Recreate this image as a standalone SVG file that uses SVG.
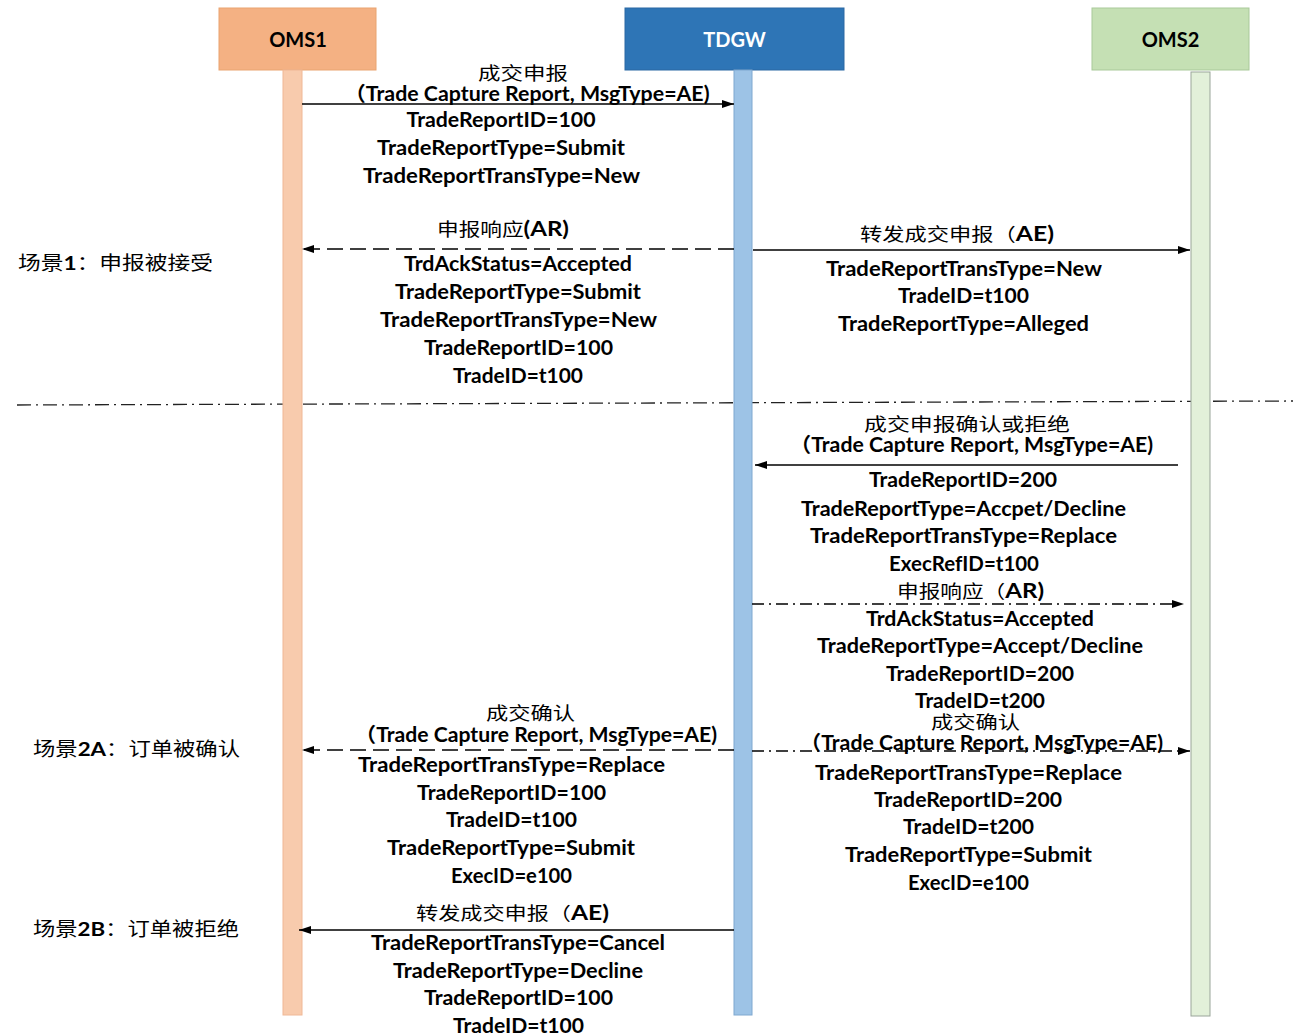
<svg xmlns="http://www.w3.org/2000/svg" width="1293" height="1036" viewBox="0 0 1293 1036">
<style>
.t{font-family:Lato,"Noto Sans CJK SC",sans-serif;font-weight:700;font-size:20px;text-anchor:middle;fill:#000}
.cn{font-family:"Noto Sans CJK SC",sans-serif;font-weight:400;font-size:18px}
.hd{font-family:Lato,"Liberation Sans",sans-serif;font-weight:700;font-size:20px;text-anchor:middle}
.side{font-family:"Noto Sans CJK SC",sans-serif;font-weight:400;font-size:19px;fill:#000}
.ln{stroke:#000;stroke-width:1.5;fill:none}
.dash{stroke-dasharray:16 7}
.dd{stroke-dasharray:12 5 2 5}
</style>
<defs>
<marker id="ah" viewBox="0 0 12 10" refX="12" refY="5" markerWidth="12" markerHeight="10" markerUnits="userSpaceOnUse" orient="auto">
<path d="M0,1 L12,5 L0,9 Z" fill="#000"/>
</marker>
</defs>
<rect width="1293" height="1036" fill="#fff"/>

<line x1="17" y1="405" x2="1293" y2="401" stroke="#222" stroke-width="1.3" stroke-dasharray="14 5 2 5"/>

<g id="oms1">
<rect x="219" y="8" width="157" height="62" fill="#F4B183" stroke="#E9A470" stroke-width="1"/>
<text class="hd" x="298" y="47" fill="#000">OMS1</text>
<rect x="283" y="70" width="19" height="945" fill="#F8CBAD" stroke="#F0B896" stroke-width="1"/>
</g>
<g id="tdgw">
<rect x="625" y="8" width="219" height="62" fill="#2E75B6" stroke="#2B69A3" stroke-width="1"/>
<text class="hd" x="734.5" y="47" fill="#fff">TDGW</text>
<rect x="734" y="70" width="18" height="945" fill="#9DC3E6" stroke="#7FA8D0" stroke-width="1"/>
</g>
<g id="oms2">
<rect x="1092" y="8" width="157" height="62" fill="#C5E0B4" stroke="#A9C99A" stroke-width="1"/>
<text class="hd" x="1170.5" y="47" fill="#000">OMS2</text>
<rect x="1191" y="72" width="19" height="944" fill="#E2F0D9" stroke="#9AA59A" stroke-width="1"/>
</g>

<g id="scenes">
<text class="side" x="18" y="270" textLength="195" lengthAdjust="spacingAndGlyphs">场景<tspan font-family="Lato,sans-serif" font-weight="700">1</tspan>：申报被接受</text>
<text class="side" x="33" y="756" textLength="207" lengthAdjust="spacingAndGlyphs">场景<tspan font-family="Lato,sans-serif" font-weight="700">2A</tspan>：订单被确认</text>
<text class="side" x="33" y="936" textLength="206" lengthAdjust="spacingAndGlyphs">场景<tspan font-family="Lato,sans-serif" font-weight="700">2B</tspan>：订单被拒绝</text>
</g>

<g id="connectors">
<line class="ln" x1="302" y1="104" x2="734" y2="104" marker-end="url(#ah)"/>
<line class="ln dash" x1="734" y1="249" x2="302" y2="249" marker-end="url(#ah)"/>
<line class="ln" x1="753" y1="250" x2="1190" y2="250" marker-end="url(#ah)"/>
<line class="ln" x1="1178" y1="465" x2="755" y2="465" marker-end="url(#ah)"/>
<line class="ln dd" x1="752" y1="604" x2="1184" y2="604" marker-end="url(#ah)"/>
<line class="ln dash" x1="734" y1="750" x2="302" y2="750" marker-end="url(#ah)"/>
<line class="ln dd" x1="752" y1="751" x2="1190" y2="751" marker-end="url(#ah)"/>
<line class="ln" x1="734" y1="930" x2="299" y2="930" marker-end="url(#ah)"/>
</g>

<g id="msg1">
<text class="t cn" x="523" y="80" textLength="90" lengthAdjust="spacingAndGlyphs">成交申报</text>
<text class="t" x="527" y="101" textLength="365" lengthAdjust="spacingAndGlyphs">（Trade Capture Report, MsgType=AE)</text>
<text class="t" x="501" y="127" textLength="189" lengthAdjust="spacingAndGlyphs">TradeReportID=100</text>
<text class="t" x="501" y="155" textLength="248" lengthAdjust="spacingAndGlyphs">TradeReportType=Submit</text>
<text class="t" x="501.5" y="183" textLength="277" lengthAdjust="spacingAndGlyphs">TradeReportTransType=New</text>
</g>

<g id="msg2">
<text class="t" x="503" y="236" textLength="132" lengthAdjust="spacingAndGlyphs"><tspan class="cn">申报响应</tspan>(AR)</text>
<text class="t" x="518" y="271" textLength="228" lengthAdjust="spacingAndGlyphs">TrdAckStatus=Accepted</text>
<text class="t" x="518" y="299" textLength="246" lengthAdjust="spacingAndGlyphs">TradeReportType=Submit</text>
<text class="t" x="518.5" y="327" textLength="277" lengthAdjust="spacingAndGlyphs">TradeReportTransType=New</text>
<text class="t" x="518.5" y="355" textLength="189" lengthAdjust="spacingAndGlyphs">TradeReportID=100</text>
<text class="t" x="518" y="383" textLength="130" lengthAdjust="spacingAndGlyphs">TradeID=t100</text>
</g>

<g id="msg3">
<text class="t" x="957" y="241" textLength="194" lengthAdjust="spacingAndGlyphs"><tspan class="cn">转发成交申报（</tspan>AE)</text>
<text class="t" x="964" y="276" textLength="276" lengthAdjust="spacingAndGlyphs">TradeReportTransType=New</text>
<text class="t" x="963.5" y="303" textLength="131" lengthAdjust="spacingAndGlyphs">TradeID=t100</text>
<text class="t" x="963.5" y="331" textLength="251" lengthAdjust="spacingAndGlyphs">TradeReportType=Alleged</text>
</g>

<g id="msg4">
<text class="t cn" x="967" y="431" textLength="206" lengthAdjust="spacingAndGlyphs">成交申报确认或拒绝</text>
<text class="t" x="971.5" y="452" textLength="363" lengthAdjust="spacingAndGlyphs">（Trade Capture Report, MsgType=AE)</text>
<text class="t" x="963" y="487" textLength="188" lengthAdjust="spacingAndGlyphs">TradeReportID=200</text>
<text class="t" x="963.5" y="516" textLength="325" lengthAdjust="spacingAndGlyphs">TradeReportType=Accpet/Decline</text>
<text class="t" x="963.5" y="543" textLength="307" lengthAdjust="spacingAndGlyphs">TradeReportTransType=Replace</text>
<text class="t" x="964" y="571" textLength="150" lengthAdjust="spacingAndGlyphs">ExecRefID=t100</text>
</g>

<g id="msg5">
<text class="t" x="970.5" y="598" textLength="147" lengthAdjust="spacingAndGlyphs"><tspan class="cn">申报响应（</tspan>AR)</text>
<text class="t" x="980" y="626" textLength="228" lengthAdjust="spacingAndGlyphs">TrdAckStatus=Accepted</text>
<text class="t" x="980" y="653" textLength="326" lengthAdjust="spacingAndGlyphs">TradeReportType=Accept/Decline</text>
<text class="t" x="980" y="681" textLength="188" lengthAdjust="spacingAndGlyphs">TradeReportID=200</text>
<text class="t" x="980" y="708" textLength="130" lengthAdjust="spacingAndGlyphs">TradeID=t200</text>
</g>

<g id="msg6">
<text class="t cn" x="530.5" y="720" textLength="89" lengthAdjust="spacingAndGlyphs">成交确认</text>
<text class="t" x="536" y="742" textLength="362" lengthAdjust="spacingAndGlyphs">（Trade Capture Report, MsgType=AE)</text>
<text class="t" x="511.5" y="772" textLength="307" lengthAdjust="spacingAndGlyphs">TradeReportTransType=Replace</text>
<text class="t" x="511.5" y="800" textLength="189" lengthAdjust="spacingAndGlyphs">TradeReportID=100</text>
<text class="t" x="511.5" y="827" textLength="131" lengthAdjust="spacingAndGlyphs">TradeID=t100</text>
<text class="t" x="511" y="855" textLength="248" lengthAdjust="spacingAndGlyphs">TradeReportType=Submit</text>
<text class="t" x="511.5" y="883" textLength="121" lengthAdjust="spacingAndGlyphs">ExecID=e100</text>
</g>

<g id="msg7">
<text class="t cn" x="975.5" y="729" textLength="89" lengthAdjust="spacingAndGlyphs">成交确认</text>
<text class="t" x="981.5" y="750" textLength="363" lengthAdjust="spacingAndGlyphs">（Trade Capture Report, MsgType=AE)</text>
<text class="t" x="968.5" y="780" textLength="307" lengthAdjust="spacingAndGlyphs">TradeReportTransType=Replace</text>
<text class="t" x="968" y="807" textLength="188" lengthAdjust="spacingAndGlyphs">TradeReportID=200</text>
<text class="t" x="968.5" y="834" textLength="131" lengthAdjust="spacingAndGlyphs">TradeID=t200</text>
<text class="t" x="968.5" y="862" textLength="247" lengthAdjust="spacingAndGlyphs">TradeReportType=Submit</text>
<text class="t" x="968.5" y="890" textLength="121" lengthAdjust="spacingAndGlyphs">ExecID=e100</text>
</g>

<g id="msg8">
<text class="t" x="512.5" y="920" textLength="193" lengthAdjust="spacingAndGlyphs"><tspan class="cn">转发成交申报（</tspan>AE)</text>
<text class="t" x="518" y="950" textLength="294" lengthAdjust="spacingAndGlyphs">TradeReportTransType=Cancel</text>
<text class="t" x="518" y="978" textLength="250" lengthAdjust="spacingAndGlyphs">TradeReportType=Decline</text>
<text class="t" x="518.5" y="1005" textLength="189" lengthAdjust="spacingAndGlyphs">TradeReportID=100</text>
<text class="t" x="518.5" y="1033" textLength="131" lengthAdjust="spacingAndGlyphs">TradeID=t100</text>
</g>
</svg>
